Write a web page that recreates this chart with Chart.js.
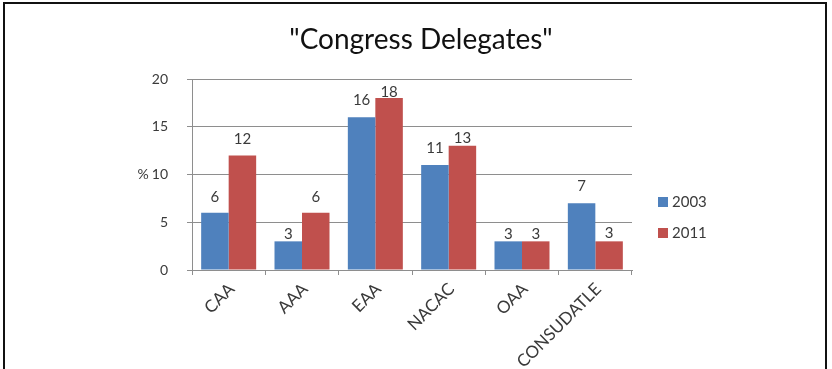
<!DOCTYPE html>
<html>
<head>
<meta charset="utf-8">
<title>Congress Delegates</title>
<script src="https://cdn.jsdelivr.net/npm/chart.js@4.4.1/dist/chart.umd.min.js"></script>
<style>
    html, body { margin: 0; padding: 0; background: #fff; }
    #wrap { position: relative; width: 832px; height: 369px; overflow: hidden; }
    #frame { position: absolute; left: 3px; top: 2px; width: 824px; height: 420px; border: 2px solid #111; box-sizing: border-box; pointer-events: none; }
</style>
</head>
<body>
<div id="wrap">
    <canvas id="chart" width="832" height="369"></canvas>
    <div id="frame"></div>
</div>
<script>
const categories = ['CAA', 'AAA', 'EAA', 'NACAC', 'OAA', 'CONSUDATLE'];
const values2003 = [6, 3, 16, 11, 3, 7];
const values2011 = [12, 6, 18, 13, 3, 3];
const yTicks = [0, 5, 10, 15, 20];

const FONT = 'Lato, "Open Sans", sans-serif';
const TEXT = '#3a3a3a';

// value labels above each bar (gap in px, the original has them placed by hand)
const barValues = {
    id: 'barValues',
    afterDatasetsDraw(chart, args, opts) {
        const ctx = chart.ctx;
        ctx.save();
        ctx.font = '15px ' + FONT;
        ctx.fillStyle = TEXT;
        ctx.textAlign = 'center';
        ctx.textBaseline = 'middle';
        chart.data.datasets.forEach((ds, i) => {
            const meta = chart.getDatasetMeta(i);
            meta.data.forEach((bar, j) => {
                const gap = opts.gaps[i][j];
                ctx.fillText(ds.data[j], bar.x, bar.y - gap);
            });
        });
        ctx.restore();
    }
};

// title, "%" axis label and the legend on the right
const extras = {
    id: 'extras',
    afterDraw(chart, args, opts) {
        const ctx = chart.ctx;
        const y = chart.scales.y;
        ctx.save();
        ctx.fillStyle = '#111';
        ctx.font = '28px ' + FONT;
        ctx.textAlign = 'center';
        ctx.textBaseline = 'middle';
        ctx.fillText(opts.title, 421, 40);

        ctx.fillStyle = TEXT;
        ctx.font = '14px ' + FONT;
        ctx.fillText('%', 143, y.getPixelForValue(10));

        ctx.font = '15px ' + FONT;
        ctx.textAlign = 'left';
        chart.data.datasets.forEach((ds, i) => {
            const cy = 202 + i * 31;
            ctx.fillStyle = ds.backgroundColor;
            ctx.fillRect(658, cy - 5, 10, 10);
            ctx.fillStyle = TEXT;
            ctx.fillText(ds.label, 672, cy);
        });
        ctx.restore();
    }
};

new Chart(document.getElementById('chart'), {
    type: 'bar',
    data: {
        labels: categories,
        datasets: [
            { label: '2003', data: values2003, backgroundColor: '#4F81BD' },
            { label: '2011', data: values2011, backgroundColor: '#C0504D' }
        ]
    },
    options: {
        responsive: false,
        animation: false,
        layout: { padding: { top: 79, left: 100, right: 200, bottom: 0 } },
        categoryPercentage: 0.75,
        barPercentage: 1,
        plugins: {
            legend: { display: false },
            tooltip: { enabled: false },
            title: { display: false },
            extras: { title: '"Congress Delegates"' },
            barValues: {
                gaps: [[16, 7, 17, 17, 7, 17], [16, 16, 6, 8, 7, 8]]
            }
        },
        scales: {
            x: {
                afterFit(s) { s.height = 99; },
                grid: { drawOnChartArea: false, color: '#8e8e8e', tickLength: 5 },
                border: { color: '#8e8e8e' },
                ticks: {
                    color: TEXT,
                    font: { family: FONT, size: 17 },
                    minRotation: 45,
                    maxRotation: 45,
                    padding: 4,
                    labelOffset: 3
                }
            },
            y: {
                min: yTicks[0],
                max: yTicks[yTicks.length - 1],
                afterFit(s) { s.width = 92; },
                afterBuildTicks(s) { s.ticks = yTicks.map(v => ({ value: v })); },
                grid: { color: '#8e8e8e', tickLength: 5 },
                border: { color: '#8e8e8e' },
                ticks: {
                    color: TEXT,
                    font: { family: FONT, size: 14 },
                    padding: 19
                }
            }
        }
    },
    plugins: [barValues, extras]
});
</script>
</body>
</html>
